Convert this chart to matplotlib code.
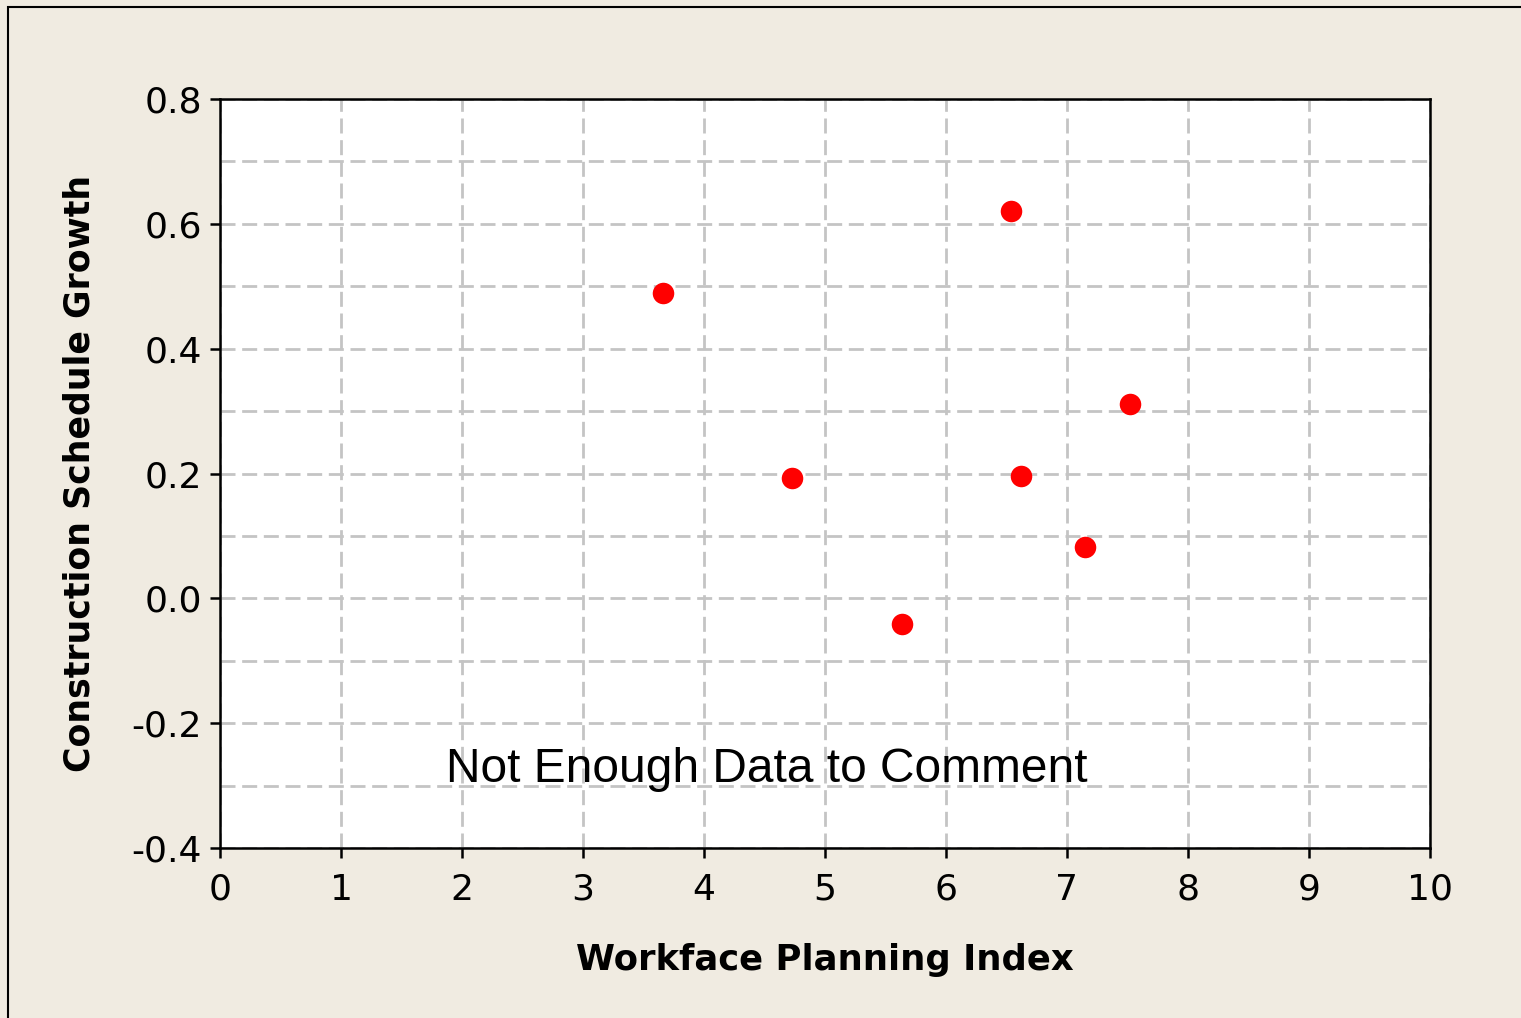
import matplotlib
matplotlib.use("Agg")
import matplotlib.pyplot as plt
from matplotlib.patches import Rectangle
from matplotlib.ticker import MultipleLocator

wpi = [3.66, 4.73, 5.64, 6.54, 6.62, 7.15, 7.52]
csg = [0.489, 0.193, -0.041, 0.621, 0.196, 0.082, 0.311]

x_ticks = [0, 1, 2, 3, 4, 5, 6, 7, 8, 9, 10]
y_ticks = [-0.4, -0.2, 0.0, 0.2, 0.4, 0.6, 0.8]
y_labels = ["-0.4", "-0.2", "0.0", "0.2", "0.4", "0.6", "0.8"]

bg = "#F0EBE1"
fig = plt.figure(figsize=(15.21, 10.18), dpi=100, facecolor=bg)
fig.patches.append(Rectangle((8/1521, -0.1), 1.5, 1.1 - 7/1018, transform=fig.transFigure,
                             fill=False, edgecolor="black", linewidth=1.5, zorder=0))

ax = fig.add_axes([220/1521, 1-848/1018, (1430-220)/1521, (848-99)/1018])
ax.set_facecolor("white")
ax.set_xlim(0, 10)
ax.set_ylim(-0.4, 0.8)
ax.set_xticks(x_ticks)
ax.set_xticklabels([str(t) for t in x_ticks])
ax.set_yticks(y_ticks)
ax.set_yticklabels(y_labels)
ax.yaxis.set_minor_locator(MultipleLocator(0.1))
gls = (0, (5.4, 2.4))
ax.grid(True, which="major", axis="both", color="#C4C4C4", linestyle=gls, linewidth=2)
ax.grid(True, which="minor", axis="y", color="#C4C4C4", linestyle=gls, linewidth=2)
ax.set_axisbelow(True)
ax.tick_params(which="minor", length=0)
ax.tick_params(which="major", direction="out", length=7, width=1.8, labelsize=26)
ax.tick_params(axis="x", pad=11)
ax.tick_params(axis="y", pad=6)
for s in ax.spines.values():
    s.set_linewidth(1.8)

ax.plot(wpi, csg, "o", color="#FF0000", markersize=15.5, markeredgewidth=0, zorder=3)

ax.set_xlabel("Workface Planning Index", fontsize=25.5, fontweight="bold", labelpad=26)
ax.set_ylabel("Construction Schedule Growth", fontsize=25, fontweight="bold", labelpad=25)

ax.text(4.52, -0.275, "Not Enough Data to Comment", fontsize=34.5, family="Liberation Sans",
        ha="center", va="center")

fig.savefig("out.png", dpi=100, facecolor=bg)
